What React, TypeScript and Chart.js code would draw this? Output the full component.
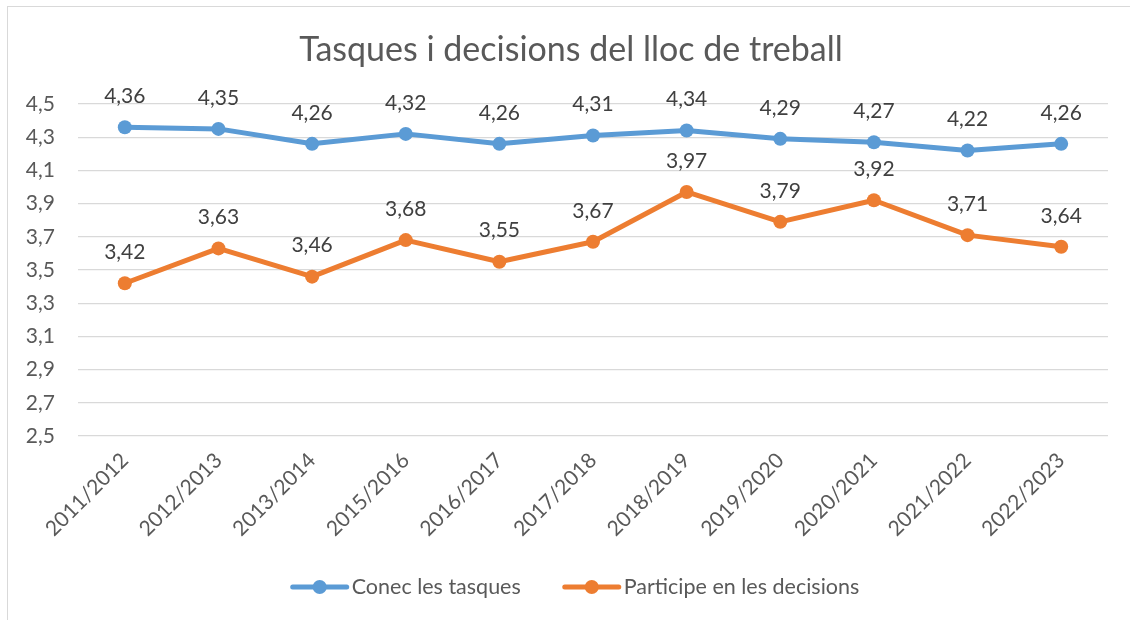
import React, { useEffect, useRef } from "react";
import { Chart, registerables } from "chart.js";

Chart.register(...registerables);

const titleText = "Tasques i decisions del lloc de treball";
const categories = [
  "2011/2012", "2012/2013", "2013/2014", "2015/2016", "2016/2017", "2017/2018",
  "2018/2019", "2019/2020", "2020/2021", "2021/2022", "2022/2023",
];
const conecLabel = "Conec les tasques";
const conecValues = [4.36, 4.35, 4.26, 4.32, 4.26, 4.31, 4.34, 4.29, 4.27, 4.22, 4.26];
const participeLabel = "Participe en les decisions";
const participeValues = [3.42, 3.63, 3.46, 3.68, 3.55, 3.67, 3.97, 3.79, 3.92, 3.71, 3.64];
const yMin = 2.5;
const yMax = 4.5;
const yStep = 0.2;

const BLUE = "#5B9BD5";
const ORANGE = "#ED7D31";
const FONT = "Lato, 'Open Sans', sans-serif";

const fmt = (v: number, d: number) => v.toFixed(d).replace(".", ",");

const labelsPlugin = {
  id: "customDraw",
  afterDatasetsDraw(chart: any) {
    const ctx = chart.ctx;
    ctx.save();
    // data labels
    ctx.font = `21px ${FONT}`;
    ctx.fillStyle = "#404040";
    ctx.textAlign = "center";
    ctx.textBaseline = "middle";
    chart.data.datasets.forEach((ds: any, i: number) => {
      const meta = chart.getDatasetMeta(i);
      meta.data.forEach((pt: any, j: number) => {
        ctx.fillText(fmt(ds.data[j], 2), pt.x, pt.y - 31);
      });
    });
    // title
    ctx.font = `34px ${FONT}`;
    ctx.fillStyle = "#595959";
    ctx.fillText(titleText, 571, 50);
    // legend
    ctx.font = `21.5px ${FONT}`;
    ctx.textAlign = "left";
    const items = chart.data.datasets.map((ds: any) => ({ text: ds.label, color: ds.borderColor }));
    const markerW = 58;
    const gapText = 3;
    const gapItems = 42;
    const widths = items.map((it: any) => markerW + gapText + ctx.measureText(it.text).width);
    const total = widths.reduce((a: number, b: number) => a + b, 0) + gapItems * (items.length - 1);
    let x = 575 - total / 2;
    const y = 587;
    items.forEach((it: any, k: number) => {
      ctx.strokeStyle = it.color;
      ctx.lineWidth = 5;
      ctx.lineCap = "round";
      ctx.beginPath();
      ctx.moveTo(x + 2, y);
      ctx.lineTo(x + markerW - 2, y);
      ctx.stroke();
      ctx.fillStyle = it.color;
      ctx.beginPath();
      ctx.arc(x + markerW / 2, y, 7, 0, Math.PI * 2);
      ctx.fill();
      ctx.fillStyle = "#595959";
      ctx.fillText(it.text, x + markerW + gapText, y);
      x += widths[k] + gapItems;
    });
    ctx.restore();
  },
};

export default function App() {
  const ref = useRef<HTMLCanvasElement | null>(null);
  useEffect(() => {
    if (!ref.current) return;
    const chart = new Chart(ref.current, {
      type: "line",
      data: {
        labels: categories,
        datasets: [
          {
            label: conecLabel,
            data: conecValues,
            borderColor: BLUE,
            backgroundColor: BLUE,
            borderWidth: 5,
            pointRadius: 7,
            pointHoverRadius: 7,
            pointBackgroundColor: BLUE,
            pointBorderWidth: 0,
            tension: 0,
            borderCapStyle: "round",
            borderJoinStyle: "round",
          },
          {
            label: participeLabel,
            data: participeValues,
            borderColor: ORANGE,
            backgroundColor: ORANGE,
            borderWidth: 5,
            pointRadius: 7,
            pointHoverRadius: 7,
            pointBackgroundColor: ORANGE,
            pointBorderWidth: 0,
            tension: 0,
            borderCapStyle: "round",
            borderJoinStyle: "round",
          },
        ],
      },
      options: {
        responsive: false,
        animation: false,
        layout: { padding: { top: 104, right: 22, left: 0, bottom: 0 } },
        plugins: {
          legend: { display: false },
          title: { display: false },
          tooltip: { enabled: false },
        },
        scales: {
          y: {
            min: yMin,
            max: yMax,
            ticks: {
              stepSize: yStep,
              padding: 23,
              color: "#595959",
              font: { family: FONT, size: 21 },
              callback: (v: any) => fmt(Number(v), 1),
            },
            grid: { color: "#d9d9d9", lineWidth: 1.3, drawTicks: false },
            border: { display: false },
            afterFit: (s: any) => { s.width = 78; },
          },
          x: {
            offset: true,
            ticks: {
              maxRotation: 45,
              minRotation: 45,
              padding: 12,
              color: "#595959",
              font: { family: FONT, size: 21 },
            },
            grid: { display: false, drawTicks: false },
            border: { display: false },
            afterFit: (s: any) => { s.height = 184; },
          },
        },
      },
      plugins: [labelsPlugin],
    } as any);
    return () => chart.destroy();
  }, []);
  return (
    <div style={{ position: "fixed", left: 0, top: 0, width: 1130, height: 620, background: "#fff", overflow: "hidden" }}>
      <div style={{ position: "absolute", left: 7, top: 6, width: 1200, height: 700, border: "1px solid #d9d9d9" }} />
      <canvas ref={ref} width={1130} height={620} style={{ position: "absolute", left: 0, top: 0 }} />
    </div>
  );
}
